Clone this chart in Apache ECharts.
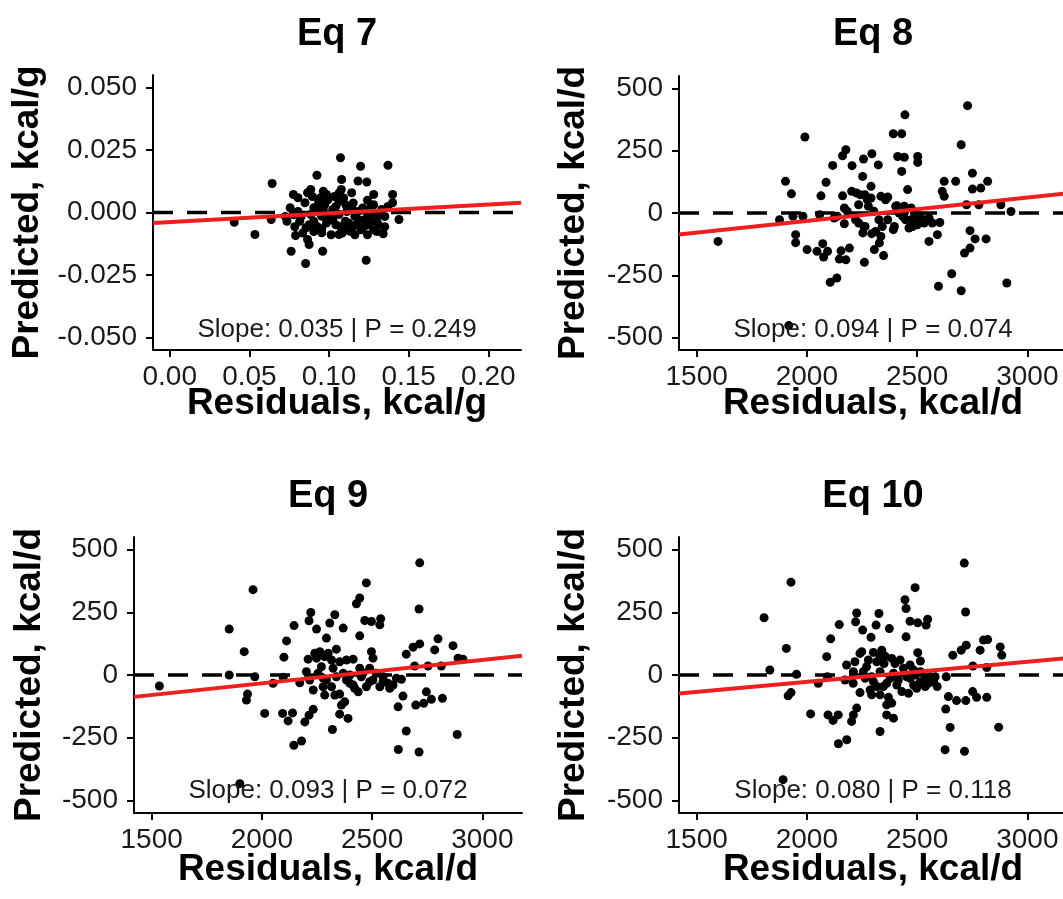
<!DOCTYPE html>
<html><head><meta charset="utf-8">
<script src="https://cdn.jsdelivr.net/npm/echarts@6/dist/echarts.min.js"></script>
<style>html,body{margin:0;padding:0;background:#fff}#c{width:1063px;height:899px}</style>
</head><body><div id="c"></div>
<script>
// ---------- data ----------
const panelTitles = ['Eq 7', 'Eq 8', 'Eq 9', 'Eq 10'];
const xTitles = ['Residuals, kcal/g', 'Residuals, kcal/d', 'Residuals, kcal/d', 'Residuals, kcal/d'];
const yTitles = ['Predicted, kcal/g', 'Predicted, kcal/d', 'Predicted, kcal/d', 'Predicted, kcal/d'];
const statLabels = ['Slope: 0.035 | P = 0.249', 'Slope: 0.094 | P = 0.074', 'Slope: 0.093 | P = 0.072', 'Slope: 0.080 | P = 0.118'];

const xTicksG = [0, 0.05, 0.10, 0.15, 0.20];
const yTicksG = [-0.050, -0.025, 0, 0.025, 0.050];
const xTicksD = [1500, 2000, 2500, 3000];
const yTicksD = [-500, -250, 0, 250, 500];

const xLimits = [[-0.0105, 0.2205], [1420, 3180], [1420, 3180], [1420, 3180]];
const yLimits = [[-0.055, 0.055], [-550, 550], [-550, 550], [-550, 550]];

const fitIntercepts = [-0.0038, -220.1, -219.2, -186.9];
const fitSlopes = [0.035, 0.094, 0.093, 0.080];

const eq7Points = [
[0.1072,0.0219],[0.1198,0.0185],[0.1370,0.0189],[0.0643,0.0116],[0.0924,0.0149],[0.1079,0.0132],[0.1182,0.0126],[0.1237,0.0122],
[0.1077,0.0092],[0.0776,0.0072],[0.0805,0.0059],[0.0885,0.0092],[0.0865,0.0079],[0.0964,0.0085],[0.0984,0.0072],[0.1142,0.0079],
[0.1280,0.0072],[0.1399,0.0072],[0.1399,0.0039],[0.0849,0.0039],[0.0935,0.0045],[0.1063,0.0045],[0.1241,0.0049],[0.1106,0.0030],
[0.0756,0.0019],[0.0904,0.0019],[0.0964,0.0012],[0.1023,0.0012],[0.1142,0.0019],[0.1260,0.0019],[0.1330,0.0012],[0.0885,-0.0008],
[0.0954,-0.0015],[0.1063,-0.0008],[0.1162,-0.0015],[0.1260,-0.0012],[0.0637,-0.0028],[0.0405,-0.0039],[0.0736,-0.0035],[0.0816,-0.0035],
[0.0904,-0.0035],[0.1023,-0.0028],[0.1103,-0.0035],[0.1182,-0.0028],[0.1300,-0.0035],[0.1439,-0.0028],[0.0785,-0.0057],[0.0855,-0.0061],
[0.0954,-0.0065],[0.1072,-0.0057],[0.1142,-0.0065],[0.1221,-0.0055],[0.1350,-0.0057],[0.0535,-0.0088],[0.0790,-0.0092],[0.0954,-0.0081],
[0.1063,-0.0088],[0.1132,-0.0075],[0.1340,-0.0085],[0.0865,-0.0108],[0.0875,-0.0128],[0.0762,-0.0155],[0.0960,-0.0155],[0.0853,-0.0204],
[0.1233,-0.0191],
[0.0895,0.0064],[0.0944,0.0058],[0.0993,0.0051],[0.0924,0.0024],[0.0973,0.0031],[0.1013,-0.0009],[0.1043,0.0024],[0.1092,0.0058],
[0.1112,0.0004],[0.1152,0.0038],[0.1182,0.0004],[0.1211,0.0018],[0.1241,-0.0002],[0.1280,0.0031],[0.1310,-0.0009],[0.1350,-0.0016],
[0.1370,0.0024],[0.0805,0.0004],[0.0825,-0.0016],[0.0875,-0.0049],[0.0924,-0.0056],[0.0984,-0.0042],[0.1043,-0.0049],[0.1092,-0.0062],
[0.1123,-0.0042],[0.1172,-0.0049],[0.1201,-0.0069],[0.1251,-0.0049],[0.1280,-0.0069],[0.1310,-0.0049],[0.0835,-0.0082],[0.0904,-0.0076],
[0.1013,-0.0089],[0.1083,-0.0082],[0.1162,-0.0089],[0.1241,-0.0089],[0.1300,-0.0076],[0.0726,-0.0016],[0.0776,-0.0009],[0.1063,0.0078],
[0.1033,0.0064],[0.0944,0.0004],[0.0993,-0.0022],[0.1221,-0.0029],[0.1260,-0.0036]
];

const eq8Points = [
[1597,-114],[1991,305],[1903,127],[1930,77],[1876,-27],[1949,-87],[1949,-119],[2001,-147],[1918,-452],[2729,431],
[2445,394],[2392,318],[2430,318],[2700,274],[2177,254],[2162,230],[2295,238],[2257,217],[2117,191],[2205,190],
[2324,193],[2412,227],[2442,224],[2503,227],[2503,203],[2430,167],[2253,147],[2087,123],[2291,107],[2457,94],
[2623,127],[2675,127],[2751,160],[2820,127],[2751,96],[2789,100],[2614,87],[2623,67],[2064,69],[2162,69],
[2203,87],[2226,80],[2264,73],[2291,60],[2336,67],[2367,64],[2235,33],[2279,27],[2408,29],[2442,27],
[2473,20],[2724,33],[2780,33],[2880,33],[2926,6],[2170,20],[2124,-20],[2058,-7],[1937,-13],[1982,-13],
[2170,-43],[2235,-40],[2264,-54],[2367,-27],[2397,-54],[2392,-67],[2435,-13],[2473,-27],[2480,-54],[2503,-34],
[2533,-27],[2511,-13],[2442,0],[2488,0],[2254,-80],[2294,-83],[2336,-94],[2329,-120],[2306,-147],[2348,-171],
[2261,-198],[2072,-123],[2046,-154],[2094,-154],[2076,-177],[2155,-152],[2193,-141],[2147,-185],[2177,-188],[2136,-261],
[2106,-278],[2603,-38],[2592,-87],[2554,-114],[2740,-71],[2763,-104],[2813,-104],[2740,-141],[2715,-161],[2657,-244],
[2597,-294],[2700,-312],[2907,-281],
[2243,73],[2274,53],[2304,7],[2327,-27],[2342,-54],[2259,-54],[2312,-74],[2418,0],[2448,-27],[2479,-33],
[2501,-47],[2532,-40],[2554,-20],[2569,-40],[2463,-60],[2403,27],[2357,53],[2221,-27],[2183,7],[2138,-13]
];

const eq9Points = [
[1535,-44],[1852,183],[1960,340],[1920,93],[1852,0],[1935,-76],[1930,-100],[2013,-153],[1900,-433],[2716,447],
[2713,263],[2474,367],[2444,307],[2429,284],[2222,249],[2214,216],[2331,240],[2308,207],[2248,183],[2369,187],
[2467,217],[2497,213],[2539,224],[2535,200],[2146,197],[2444,156],[2293,147],[2112,136],[2100,71],[2799,144],
[2784,100],[2716,124],[2686,111],[2655,83],[2867,117],[2890,67],[2912,63],[2240,87],[2263,93],[2301,87],
[2338,103],[2210,63],[2316,60],[2353,53],[2384,60],[2414,63],[2497,93],[2504,67],[2270,33],[2323,27],
[2444,27],[2489,27],[2693,36],[2754,36],[2814,36],[2202,13],[2338,-7],[2399,0],[2459,7],[2520,7],
[2550,-7],[1968,-7],[2097,-9],[2051,-33],[2172,-31],[2278,-13],[2233,-60],[2278,-47],[2399,-33],[2437,-67],
[2414,-40],[2489,-27],[2535,-47],[2572,-33],[2595,-40],[2633,-17],[2285,-80],[2331,-80],[2353,-76],[2376,-107],
[2361,-120],[2640,-84],[2618,-127],[2746,-67],[2769,-97],[2819,-93],[2734,-113],[2698,-120],[2094,-153],[2139,-151],
[2119,-183],[2195,-187],[2233,-137],[2214,-160],[2353,-156],[2391,-173],[2320,-217],[2180,-263],[2145,-280],[2655,-223],
[2619,-297],[2713,-307],[2886,-237],
[2248,67],[2285,73],[2255,7],[2293,-20],[2316,-47],[2384,-20],[2421,-53],[2451,-7],[2474,-47],[2504,-20],
[2550,-27],[2580,-53],[2610,-13],[2369,7],[2217,-20]
];

const eq10Points = [
[1892,-417],[1806,228],[1928,370],[1907,106],[1832,20],[1953,3],[1915,-83],[1928,-70],[2017,-155],[2052,-33],
[2090,73],[2108,144],[2147,201],[2226,247],[2221,212],[2253,179],[2291,150],[2314,199],[2327,245],[2374,185],
[2445,300],[2450,265],[2491,348],[2468,214],[2503,208],[2548,222],[2541,199],[2450,152],[2714,446],[2720,251],
[2662,79],[2700,99],[2723,119],[2786,99],[2801,139],[2820,141],[2877,112],[2884,79],[2753,36],[2816,30],
[2093,-7],[2173,-20],[2211,13],[2241,86],[2249,93],[2218,53],[2279,60],[2302,90],[2340,99],[2317,53],
[2350,46],[2400,46],[2423,60],[2355,75],[2503,89],[2515,56],[2271,33],[2332,13],[2393,7],[2438,27],
[2484,20],[2515,13],[2453,-7],[2491,0],[2537,-13],[2560,-7],[2575,-27],[2591,-46],[2515,-27],[2484,-40],
[2537,-46],[2632,-7],[2264,-13],[2302,-27],[2378,-13],[2347,-46],[2408,-40],[2431,-66],[2461,-73],[2287,-60],
[2241,-70],[2294,-79],[2332,-79],[2370,-89],[2385,-112],[2362,-119],[2642,-86],[2679,-102],[2721,-102],[2752,-66],
[2770,-89],[2816,-89],[2630,-136],[2650,-209],[2627,-298],[2715,-304],[2870,-208],[2096,-159],[2119,-181],[2142,-159],
[2211,-159],[2226,-132],[2203,-185],[2332,-225],[2362,-159],[2393,-172],[2181,-258],[2143,-274],
[2256,13],[2294,-7],[2317,-46],[2362,-33],[2415,-20],[2468,-13],[2498,-53],[2551,-33],[2582,-7],[2332,73],
[2385,66],[2468,40],[2210,-33],[2180,40]
];

// ---------- layout ----------
const FONT = "'Liberation Sans', Arial, Helvetica, sans-serif";
const grids = [
  {left: 153, top: 75, width: 368, height: 275},
  {left: 679, top: 76, width: 388, height: 274},
  {left: 134, top: 537, width: 388, height: 276},
  {left: 679, top: 537, width: 388, height: 276}
];
const titleY = [34.5, 34.5, 496.5, 496.5];
const xTitleY = [404, 404, 870, 870];
const yTitleX = [28, 574, 30, 574];
const statY = [330, 330, 791, 791];

const allPoints = [eq7Points, eq8Points, eq9Points, eq10Points];
const xTicksAll = [xTicksG, xTicksD, xTicksD, xTicksD];
const yTicksAll = [yTicksG, yTicksD, yTicksD, yTicksD];
const xDec = [2, 0, 0, 0];
const yDec = [3, 0, 0, 0];

const chart = echarts.init(document.getElementById('c'), null, {renderer: 'canvas'});

const gridOpts = [], xAxes = [], yAxes = [], series = [], graphics = [];
for (let i = 0; i < 4; i++) {
  const g = grids[i];
  gridOpts.push(Object.assign({containLabel: false, outerBoundsMode: 'none'}, g));
  const axisCommon = (ticks, dec, margin) => ({
    type: 'value', gridIndex: i, splitLine: {show: false},
    axisLine: {show: true, onZero: false, lineStyle: {color: '#000', width: 2}},
    axisTick: {show: true, inside: false, length: 7, customValues: ticks, lineStyle: {color: '#000', width: 2}},
    axisLabel: {show: true, customValues: ticks, margin: margin, fontSize: 28, fontFamily: FONT, color: '#1a1a1a',
      formatter: v => Number(v).toFixed(dec)}
  });
  xAxes.push(Object.assign(axisCommon(xTicksAll[i], xDec[i], 13), {min: xLimits[i][0], max: xLimits[i][1]}));
  yAxes.push(Object.assign(axisCommon(yTicksAll[i], yDec[i], 16), {min: yLimits[i][0], max: yLimits[i][1]}));

  series.push({type: 'scatter', xAxisIndex: i, yAxisIndex: i, data: allPoints[i], symbolSize: 9,
    itemStyle: {color: '#000', opacity: 1}, z: 2, silent: true});
  series.push({type: 'line', xAxisIndex: i, yAxisIndex: i, data: [[xLimits[i][0], 0], [xLimits[i][1], 0]],
    symbol: 'none', lineStyle: {color: '#000', width: 3.5, type: [20, 14]}, z: 3, silent: true});
  const x0 = xLimits[i][0], x1 = xLimits[i][1];
  series.push({type: 'line', xAxisIndex: i, yAxisIndex: i,
    data: [[x0, fitIntercepts[i] + fitSlopes[i] * x0], [x1, fitIntercepts[i] + fitSlopes[i] * x1]],
    symbol: 'none', lineStyle: {color: '#ee1f1f', width: 4}, z: 4, silent: true});

  const cx = g.left + g.width / 2;
  const cy = g.top + g.height / 2;
  graphics.push({type: 'text', x: cx, y: titleY[i], style: {text: panelTitles[i], font: "bold 38px " + FONT,
    fill: '#000', textAlign: 'center', textVerticalAlign: 'middle'}});
  graphics.push({type: 'text', x: cx, y: xTitleY[i], style: {text: xTitles[i], font: "bold 37px " + FONT,
    fill: '#000', textAlign: 'center', textVerticalAlign: 'middle'}});
  graphics.push({type: 'text', x: yTitleX[i], y: cy, rotation: Math.PI / 2, style: {text: yTitles[i], font: "bold 37px " + FONT,
    fill: '#000', textAlign: 'center', textVerticalAlign: 'middle'}});
  graphics.push({type: 'text', x: cx, y: statY[i], z: 10, style: {text: statLabels[i], font: "26px " + FONT,
    fill: '#1a1a1a', textAlign: 'center', textVerticalAlign: 'middle'}});
}

chart.setOption({
  animation: false,
  backgroundColor: '#fff',
  grid: gridOpts,
  xAxis: xAxes,
  yAxis: yAxes,
  series: series,
  graphic: graphics
});
</script>
</body></html>
